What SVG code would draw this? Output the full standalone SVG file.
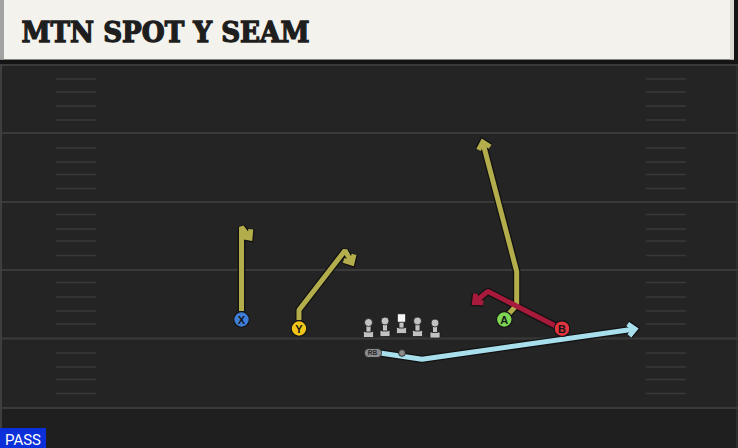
<svg xmlns="http://www.w3.org/2000/svg" width="738" height="448" viewBox="0 0 738 448">
<defs>
<style>
.yl{stroke:#3a3a3a;stroke-width:2;fill:none}
.hm{stroke:#383838;stroke-width:1.5;fill:none}
.ol{stroke:#121212;stroke-width:7.6;fill:none;stroke-linejoin:bevel;stroke-linecap:butt}
.rt{stroke-width:5;fill:none;stroke-linejoin:bevel;stroke-linecap:butt}
.olv{stroke:#b3ad4c}
.red{stroke:#a81a3c}
.blu{stroke:#a8dfec}
.pl{stroke:#151515;stroke-width:1.2}
.lt{font-family:"Liberation Sans",Arial,sans-serif;font-weight:bold;font-size:11px;fill:#151515;text-anchor:middle}
.lm{fill:#c2c2c2;stroke:#1a1a1a;stroke-width:0.8}
</style>
<marker id="aO" markerUnits="userSpaceOnUse" markerWidth="20" markerHeight="20" viewBox="-10 -10 20 20" refX="0" refY="0" orient="auto" overflow="visible"><path d="M-6.5,-6 L0,0 L-6.5,6" fill="none" stroke="#121212" stroke-width="7.6"/></marker>
<marker id="aY" markerUnits="userSpaceOnUse" markerWidth="20" markerHeight="20" viewBox="-10 -10 20 20" refX="0" refY="0" orient="auto" overflow="visible"><path d="M-6.5,-6 L0,0 L-6.5,6" fill="none" stroke="#b3ad4c" stroke-width="5"/></marker>
<marker id="aR" markerUnits="userSpaceOnUse" markerWidth="20" markerHeight="20" viewBox="-10 -10 20 20" refX="0" refY="0" orient="auto" overflow="visible"><path d="M-6.5,-6 L0,0 L-6.5,6" fill="none" stroke="#a81a3c" stroke-width="5"/></marker>
<marker id="aB" markerUnits="userSpaceOnUse" markerWidth="20" markerHeight="20" viewBox="-10 -10 20 20" refX="0" refY="0" orient="auto" overflow="visible"><path d="M-6.5,-6 L0,0 L-6.5,6" fill="none" stroke="#a8dfec" stroke-width="5"/></marker>
</defs>

<!-- field -->
<rect x="0" y="0" width="738" height="448" fill="#242424"/>
<rect x="0" y="408" width="738" height="40" fill="#1f1f1f"/>
<rect x="0" y="60" width="2" height="388" fill="#3e3e3e"/>
<rect x="736" y="60" width="2" height="388" fill="#2e2e2e"/>
<g id="yardlines">
<line class="yl" x1="2" y1="65" x2="738" y2="65"/>
<line class="yl" x1="2" y1="133" x2="738" y2="133"/>
<line class="yl" x1="2" y1="202" x2="738" y2="202"/>
<line class="yl" x1="2" y1="270" x2="738" y2="270"/>
<line class="yl" x1="2" y1="338.5" x2="738" y2="338.5"/>
<line class="yl" x1="2" y1="408" x2="738" y2="408"/>
</g>
<g id="hashes">
<path class="hm" d="M56,79H96M56,92H96M56,106H96M56,120H96M56,148H96M56,162H96M56,174.5H96M56,188.5H96M56,214.5H96M56,229H96M56,241H96M56,255.5H96M56,282.5H96M56,297H96M56,311H96M56,324H96M56,353H96M56,367H96M56,379.5H96M56,393.5H96"/>
<path class="hm" d="M646,79H686M646,92H686M646,106H686M646,120H686M646,148H686M646,162H686M646,174.5H686M646,188.5H686M646,214.5H686M646,229H686M646,241H686M646,255.5H686M646,282.5H686M646,297H686M646,311H686M646,324H686M646,353H686M646,367H686M646,379.5H686M646,393.5H686"/>
</g>

<!-- header -->
<g id="header">
<rect x="0" y="0" width="738" height="64" fill="#141414"/>
<rect x="0" y="0" width="734" height="59.5" fill="#f4f2ec"/>
<rect x="0" y="0" width="4" height="59.5" fill="#a3a3a3"/>
<rect x="730" y="0" width="4" height="59.5" fill="#dcd9d2"/>
<text x="21.5" y="42" font-family="'DejaVu Serif','Liberation Serif',serif" font-weight="900" font-size="27" fill="#1e1e1e" stroke="#1e1e1e" stroke-width="1.3" stroke-linejoin="miter" textLength="288" lengthAdjust="spacingAndGlyphs">MTN SPOT Y SEAM</text>
</g>

<!-- routes -->
<g id="connectors">
<g id="outlines">
<path class="ol" d="M241.5,311 V227 L250,238" marker-end="url(#aO)"/>
<path class="ol" d="M299,320 V310 L345,250.5 L352,263" marker-end="url(#aO)"/>
<path class="ol" d="M505,318 L516.7,305 V271.5 L482.7,142" marker-end="url(#aO)"/>
<path class="ol" d="M561.5,329 L487.7,291.3 L474.5,302.5" marker-end="url(#aO)"/>
<path class="ol" d="M380,353 L422,359.3 L635,329" marker-end="url(#aO)"/>
</g>
<path class="rt olv" d="M241.5,311 V227 L250,238" marker-end="url(#aY)"/>
<path class="rt olv" d="M299,320 V310 L345,250.5 L352,263" marker-end="url(#aY)"/>
<path class="rt olv" d="M505,318 L516.7,305 V271.5 L482.7,142" marker-end="url(#aY)"/>
<path class="rt red" d="M561.5,329 L487.7,291.3 L474.5,302.5" marker-end="url(#aR)"/>
<path class="rt blu" d="M380,353 L422,359.3 L635,329" marker-end="url(#aB)"/>
</g>

<!-- players -->
<g id="X"><circle class="pl" cx="241.5" cy="319.5" r="7.8" fill="#3f7ed8"/><text class="lt" x="241.5" y="323.5">X</text></g>
<g id="Y"><circle class="pl" cx="299" cy="328.5" r="7.8" fill="#f1c419"/><text class="lt" x="299" y="332.5">Y</text></g>
<g id="A"><circle class="pl" cx="504.3" cy="319.5" r="7.8" fill="#7fd655"/><text class="lt" x="504.3" y="323.5">A</text></g>
<g id="B"><circle class="pl" cx="562" cy="328.7" r="7.8" fill="#e1343f"/><text class="lt" x="562" y="332.7">B</text></g>

<g id="OL1"><rect class="lm" x="363.5" y="331.5" width="10" height="6" rx="1"/><rect class="lm" x="366" y="324" width="5" height="8"/><circle class="lm" cx="368.5" cy="322.5" r="4"/></g>
<g id="OL2"><rect class="lm" x="380" y="330.5" width="10" height="6" rx="1"/><rect class="lm" x="382.5" y="322.5" width="5" height="8.5"/><circle class="lm" cx="385" cy="321" r="4"/></g>
<g id="C"><rect class="lm" x="396.5" y="327.5" width="10" height="6" rx="1"/><rect class="lm" x="399" y="321" width="5" height="7"/><rect x="397.3" y="313.8" width="8.4" height="8.4" fill="#f6f6f6" stroke="#1a1a1a" stroke-width="0.8"/></g>
<g id="OL4"><rect class="lm" x="412.5" y="330.5" width="10" height="6" rx="1"/><rect class="lm" x="415" y="322.5" width="5" height="8.5"/><circle class="lm" cx="417.5" cy="321" r="4"/></g>
<g id="OL5"><rect class="lm" x="430" y="332" width="10" height="6" rx="1"/><rect class="lm" x="432.5" y="324.5" width="5" height="8"/><circle class="lm" cx="435" cy="323" r="4"/></g>

<g id="QB"><circle cx="402" cy="353" r="3.4" fill="#8a8a8a" stroke="#1a1a1a" stroke-width="0.8"/></g>
<g id="RB"><rect x="364.5" y="348.5" width="17" height="9" rx="4" fill="#8c8c8c" stroke="#1a1a1a" stroke-width="0.8"/><text x="372.5" y="355.2" font-family="'Liberation Sans',Arial,sans-serif" font-size="6.5" font-weight="bold" fill="#2a2a2a" text-anchor="middle">RB</text></g>

<!-- PASS tag -->
<g id="pass">
<rect x="0" y="428" width="46" height="20" fill="#0b2fd8"/>
<text x="5" y="444.5" font-family="Roboto,'Liberation Sans',sans-serif" font-size="15" fill="#ffffff" textLength="36" lengthAdjust="spacingAndGlyphs">PASS</text>
</g>
</svg>
